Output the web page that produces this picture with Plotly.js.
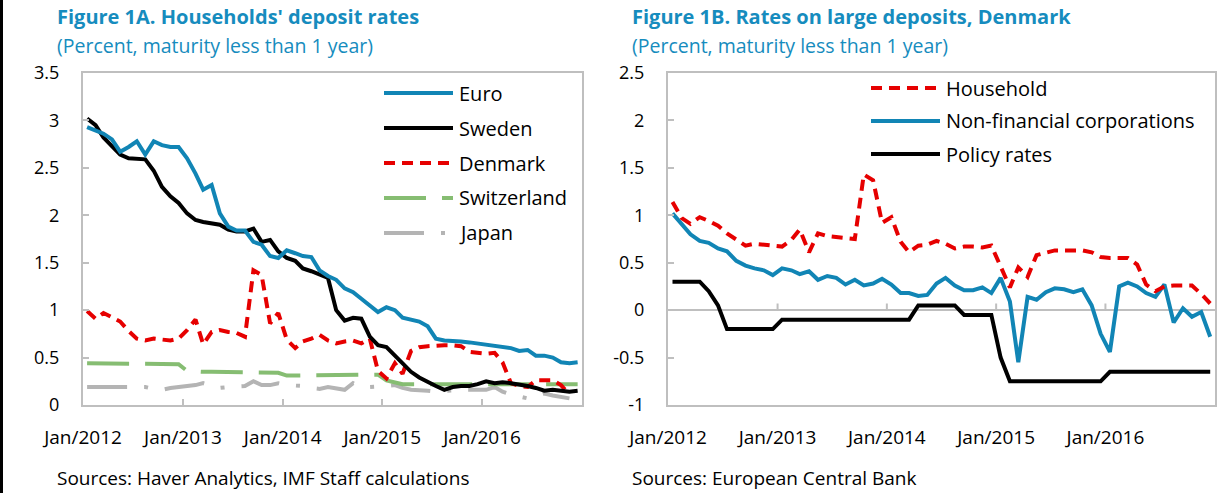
<!DOCTYPE html>
<html><head><meta charset="utf-8">
<script src="https://cdn.plot.ly/plotly-3.0.1.min.js"></script>
<style>html,body{margin:0;padding:0;background:#fff}#chart{width:1217px;height:493px}</style>
</head><body><div id="chart"></div>
<script>
// Monthly categories, Jan 2012 - Dec 2016 (plotted mid-month)
const months = [];
for (let y = 2012; y <= 2016; y++) for (let m = 1; m <= 12; m++) months.push(y + '-' + String(m).padStart(2, '0') + '-16');
const tickVals = ['2012-01-01', '2013-01-01', '2014-01-01', '2015-01-01', '2016-01-01'];
const tickLabels = ['Jan/2012', 'Jan/2013', 'Jan/2014', 'Jan/2015', 'Jan/2016'];
const yTicksA = [0, 0.5, 1, 1.5, 2, 2.5, 3, 3.5];
const yTicksB = [-1, -0.5, 0, 0.5, 1, 1.5, 2, 2.5];

// Figure 1A: households' deposit rates (percent)
const euro = [2.93, 2.89, 2.86, 2.80, 2.67, 2.72, 2.78, 2.64, 2.78, 2.74, 2.72, 2.72,
  2.60, 2.44, 2.27, 2.32, 2.02, 1.88, 1.84, 1.84, 1.72, 1.69, 1.57, 1.55,
  1.63, 1.60, 1.57, 1.56, 1.42, 1.36, 1.32, 1.23, 1.19, 1.12, 1.05, 0.98,
  1.03, 1.00, 0.92, 0.90, 0.88, 0.83, 0.70, 0.68, 0.68, 0.67, 0.66, 0.65,
  0.64, 0.62, 0.61, 0.60, 0.57, 0.58, 0.52, 0.52, 0.50, 0.45, 0.44, 0.45];
const sweden = [3.02, 2.95, 2.82, 2.73, 2.64, 2.60, 2.60, 2.59, 2.47, 2.30, 2.20, 2.13,
  2.02, 1.95, 1.93, 1.92, 1.90, 1.85, 1.83, 1.83, 1.86, 1.72, 1.74, 1.62,
  1.55, 1.52, 1.44, 1.41, 1.37, 1.34, 1.00, 0.89, 0.92, 0.91, 0.72, 0.63,
  0.61, 0.52, 0.43, 0.35, 0.29, 0.24, 0.20, 0.16, 0.19, 0.20, 0.20, 0.22,
  0.25, 0.23, 0.24, 0.23, 0.22, 0.20, 0.18, 0.15, 0.16, 0.15, 0.14, 0.15];
const denmark = [0.99, 0.91, 0.97, 0.93, 0.88, 0.78, 0.70, 0.68, 0.70, 0.69, 0.68, 0.70,
  0.79, 0.90, 0.64, 0.77, 0.79, 0.77, 0.76, 0.72, 1.42, 1.37, 0.86, 0.97,
  0.69, 0.60, 0.67, 0.70, 0.74, 0.68, 0.65, 0.67, 0.68, 0.65, 0.70, 0.36,
  0.28, 0.44, 0.33, 0.57, 0.61, 0.62, 0.63, 0.63, 0.63, 0.62, 0.56, 0.55,
  0.54, 0.55, 0.45, 0.23, 0.20, 0.19, 0.26, 0.26, 0.26, 0.21, 0.11, null];
const switzerland = [0.44, 0.44, 0.44, 0.44, 0.44, 0.44, 0.44, 0.44, 0.44, 0.44, 0.44, 0.43,
  0.36, 0.35, 0.35, 0.35, 0.35, 0.35, 0.35, 0.35, 0.35, 0.35, 0.35, 0.34,
  0.31, 0.31, 0.31, 0.31, 0.31, 0.31, 0.31, 0.31, 0.31, 0.31, 0.31, 0.32,
  0.26, 0.24, 0.22, 0.22, 0.22, 0.22, 0.22, 0.22, 0.22, 0.22, 0.22, 0.22,
  0.22, 0.22, 0.22, 0.22, 0.22, 0.22, 0.22, 0.22, 0.22, 0.22, 0.22, 0.22];
const japan = [0.19, 0.19, 0.19, 0.18, 0.18, 0.18, 0.19, 0.19, 0.17, 0.16, 0.18, 0.19,
  0.20, 0.21, 0.23, 0.20, 0.18, 0.19, 0.19, 0.20, 0.25, 0.21, 0.21, 0.23,
  0.21, 0.21, 0.20, 0.18, 0.17, 0.19, 0.18, 0.16, 0.23, 0.19, 0.19, 0.20,
  0.20, 0.21, 0.18, 0.16, 0.16, 0.15, 0.14, 0.15, 0.16, 0.16, 0.16, 0.16,
  0.16, 0.19, 0.14, 0.11, 0.09, 0.07, 0.09, 0.12, 0.10, 0.09, 0.07, null];

// Figure 1B: rates on large deposits, Denmark (percent)
const household = [1.14, 0.97, 0.91, 0.98, 0.94, 0.89, 0.81, 0.74, 0.68, 0.70, 0.69, 0.69,
  0.67, 0.74, 0.85, 0.61, 0.81, 0.78, 0.77, 0.76, 0.75, 1.43, 1.37, 0.92,
  0.98, 0.72, 0.61, 0.68, 0.69, 0.73, 0.70, 0.65, 0.67, 0.67, 0.66, 0.68,
  0.45, 0.24, 0.45, 0.35, 0.58, 0.61, 0.63, 0.63, 0.63, 0.63, 0.61, 0.56,
  0.55, 0.55, 0.55, 0.48, 0.27, 0.20, 0.25, 0.26, 0.26, 0.26, 0.17, 0.07];
const nonFinancial = [1.02, 0.90, 0.80, 0.73, 0.71, 0.65, 0.62, 0.52, 0.47, 0.44, 0.42, 0.37,
  0.44, 0.42, 0.38, 0.41, 0.32, 0.36, 0.34, 0.27, 0.32, 0.26, 0.28, 0.33,
  0.27, 0.18, 0.18, 0.15, 0.16, 0.28, 0.34, 0.26, 0.21, 0.21, 0.24, 0.18,
  0.34, 0.09, -0.55, 0.14, 0.11, 0.19, 0.23, 0.22, 0.19, 0.22, 0.05, -0.25,
  -0.44, 0.25, 0.29, 0.25, 0.18, 0.14, 0.27, -0.13, 0.02, -0.07, -0.02, -0.28];
const policyRate = [0.30, 0.30, 0.30, 0.30, 0.20, 0.05, -0.20, -0.20, -0.20, -0.20, -0.20, -0.20,
  -0.10, -0.10, -0.10, -0.10, -0.10, -0.10, -0.10, -0.10, -0.10, -0.10, -0.10, -0.10,
  -0.10, -0.10, -0.10, 0.05, 0.05, 0.05, 0.05, 0.05, -0.05, -0.05, -0.05, -0.05,
  -0.50, -0.75, -0.75, -0.75, -0.75, -0.75, -0.75, -0.75, -0.75, -0.75, -0.75, -0.75,
  -0.65, -0.65, -0.65, -0.65, -0.65, -0.65, -0.65, -0.65, -0.65, -0.65, -0.65, -0.65];

const namesA = ['Euro', 'Sweden', 'Denmark', 'Switzerland', 'Japan'];
const namesB = ['Household', 'Non-financial corporations', 'Policy rates'];

const FONT = 'Open Sans, Noto Sans, sans-serif';
const BLUE = '#1185b5', RED = '#e60000', GREEN = '#86bd72', GREY = '#b4b4b4', TEAL = '#168cbe';
const styleA = [
  {color: BLUE, width: 4, dash: 'solid'},
  {color: '#000000', width: 4, dash: 'solid'},
  {color: RED, width: 4, dash: '11px,7px'},
  {color: GREEN, width: 4, dash: '42px,16px'},
  {color: GREY, width: 4, dash: '40px,17px,4px,17px'}
];
const styleB = [
  {color: RED, width: 4, dash: '11px,7px'},
  {color: BLUE, width: 4, dash: 'solid'},
  {color: '#000000', width: 4, dash: 'solid'}
];
const seriesA = [euro, sweden, denmark, switzerland, japan];
const seriesB = [household, nonFinancial, policyRate];

const traces = [];
[4, 3, 2, 1, 0].forEach(k => traces.push({
  type: 'scatter', mode: 'lines', x: months, y: seriesA[k], name: namesA[k],
  xaxis: 'x', yaxis: 'y', line: styleA[k], showlegend: false, connectgaps: false
}));
[2, 1, 0].forEach(k => traces.push({
  type: 'scatter', mode: 'lines', x: months, y: seriesB[k], name: namesB[k],
  xaxis: 'x2', yaxis: 'y2', line: styleB[k], showlegend: false
}));

const W = 1217, H = 493;
const px = v => v / W, py = v => 1 - v / H;
const AX = '#bfbfbf';

const shapes = [];
const annotations = [];
// custom legends
namesA.forEach((n, k) => {
  const yc = py(93 + k * 35);
  shapes.push({type: 'line', xref: 'paper', yref: 'paper', x0: px(384), x1: px(453), y0: yc, y1: yc, line: styleA[k]});
  annotations.push({xref: 'paper', yref: 'paper', x: px(457), y: yc, xanchor: 'left', yanchor: 'middle', showarrow: false, text: n, font: {family: FONT, size: 20, color: '#000'}});
});
namesB.forEach((n, k) => {
  const yc = py(88 + k * 33);
  shapes.push({type: 'line', xref: 'paper', yref: 'paper', x0: px(871), x1: px(940), y0: yc, y1: yc, line: styleB[k]});
  annotations.push({xref: 'paper', yref: 'paper', x: px(944), y: yc, xanchor: 'left', yanchor: 'middle', showarrow: false, text: n, font: {family: FONT, size: 20, color: '#000'}});
});
// tick marks on the zero line of panel B
tickVals.slice(1).forEach(t => shapes.push({type: 'line', xref: 'x2', yref: 'y2', x0: t, x1: t, y0: 0, y1: 0.07, line: {color: AX, width: 2}}));
// left black border
shapes.push({type: 'line', xref: 'paper', yref: 'paper', x0: px(1.5), x1: px(1.5), y0: 0, y1: 1, line: {color: '#000', width: 3}});

const titles = [
  {x: 55, y: 17, text: "<b>Figure 1A. Households' deposit rates</b>", size: 20, color: TEAL},
  {x: 55, y: 45, text: '(Percent, maturity less than 1 year)', size: 19.5, color: TEAL},
  {x: 55, y: 478, text: 'Sources: Haver Analytics, IMF Staff calculations', size: 19, color: '#000'},
  {x: 630, y: 17, text: '<b>Figure 1B. Rates on large deposits, Denmark</b>', size: 20, color: TEAL},
  {x: 630, y: 45, text: '(Percent, maturity less than 1 year)', size: 19.5, color: TEAL},
  {x: 630, y: 478, text: 'Sources: European Central Bank', size: 19, color: '#000'}
];
titles.forEach(t => annotations.push({xref: 'paper', yref: 'paper', x: px(t.x), y: py(t.y), xanchor: 'left', yanchor: 'middle', showarrow: false, text: t.text, font: {family: FONT, size: t.size, color: t.color}}));

const yDom = [1 - 405 / H, 1 - 73 / H];
const xCommon = {
  type: 'date', range: ['2012-01-01', '2017-01-01'], tickvals: tickVals, ticktext: tickLabels,
  showgrid: false, zeroline: false, showline: true, mirror: true, linecolor: AX, linewidth: 2,
  tickfont: {family: FONT, size: 19, color: '#000'}, ticklabelstandoff: 14, fixedrange: true
};
const yCommon = {
  showgrid: false, showline: true, mirror: true, linecolor: AX, linewidth: 2,
  ticks: 'inside', ticklen: 6, tickwidth: 2, tickcolor: AX,
  tickfont: {family: FONT, size: 18, color: '#000'}, ticklabelstandoff: 18, domain: yDom, fixedrange: true
};

const layout = {
  width: W, height: H, margin: {l: 0, r: 0, t: 0, b: 0},
  paper_bgcolor: '#fff', plot_bgcolor: '#fff', showlegend: false,
  font: {family: FONT, color: '#000'},
  xaxis: Object.assign({}, xCommon, {domain: [px(83), px(582)], anchor: 'y', ticks: 'inside', ticklen: 6, tickwidth: 2, tickcolor: AX}),
  yaxis: Object.assign({}, yCommon, {anchor: 'x', range: [0, 3.5], tickvals: yTicksA, ticktext: yTicksA.map(String), zeroline: false}),
  xaxis2: Object.assign({}, xCommon, {domain: [px(668), px(1215)], anchor: 'y2', ticks: ''}),
  yaxis2: Object.assign({}, yCommon, {anchor: 'x2', range: [-1, 2.5], tickvals: yTicksB, ticktext: yTicksB.map(String), zeroline: true, zerolinecolor: AX, zerolinewidth: 2}),
  shapes: shapes, annotations: annotations
};

Plotly.newPlot('chart', traces, layout, {displayModeBar: false, staticPlot: true});
</script>
</body></html>
